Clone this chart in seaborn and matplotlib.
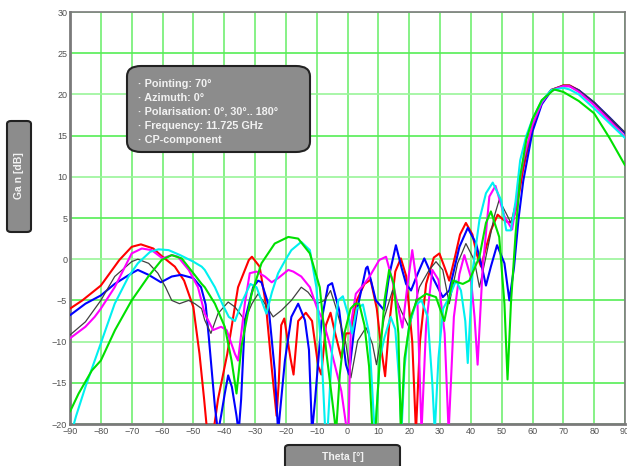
import numpy as np
import pandas as pd
import seaborn as sns
import matplotlib.pyplot as plt
from matplotlib.patches import FancyBboxPatch

# Gain-Kurven (CP-Komponente) fuer Polarisation 0..180 Grad
theta_red = [-90, -86, -80, -74, -70, -67, -63, -60, -56, -53, -50, -48, -46.5, -45.5, -43.5, -42, -39, -35.5,
             -32, -31, -28.5, -26.5, -24.5, -23, -22.3, -21.5, -20.5, -18.5, -17.5, -16, -13.5, -11.5, -9.5,
             -8.5, -7, -5.5, -4, -2, -0.5, 1, 3, 5.5, 7.5, 9.5, 11, 12.2, 13.5, 15.5, 17.3, 19, 21, 22.2, 23.5,
             25.5, 28, 29.8, 31.5, 33, 35, 36.5, 38.4, 40.5, 42, 43.3, 45, 46.5, 48.7, 50.5, 52, 53.5, 55, 57,
             60, 63, 66, 70, 72, 75, 80, 85, 90]
gain_red = [-6.0, -5.0, -3.2, -0.1, 1.5, 1.8, 1.3, 0.3, -0.9, -2.6, -5.8, -11.5, -17, -21, -21, -17, -11.5, -3.4,
            -0.1, 0.3, -0.9, -5.4, -13.5, -19, -15, -8, -7.2, -12, -14, -7.5, -6.5, -7.5, -13,
            -14, -8, -6.5, -9, -12, -9, -9, -5, -3, -2.5, -6, -11, -14.2, -8, -1.5, 0.1, -2, -10, -21, -10,
            -3, 0.2, 0.7, -1, -2.6, 0.5, 3, 4.4, 3, 0.5, -0.9, 1.5, 3.5, 5.4, 4.8, 4.5, 4.5, 6.5, 11,
            16, 19, 20.5, 21.1, 21.1, 20.5, 19.0, 17.0, 15.3]

theta_blue = [-90, -85, -80, -75.5, -70, -68, -64.5, -60.5, -57, -54, -50, -47.5, -46, -45, -43, -42, -41, -39.8,
              -38.7, -37.5, -36, -35.3, -34.5, -33.3, -30.6, -29, -27.9, -25.7, -23.6, -22.5, -21.5, -20.3,
              -18.2, -16, -13.8, -12.5, -11.5, -10.5, -8.4, -6.3, -5, -2.7, -0.5, 0.5, 2, 3.3, 6, 6.5, 9.2,
              11.9, 13.5, 15.7, 17.5, 19, 20.6, 22.5, 24.9, 27.6, 30.9, 33, 36.3, 39, 41.7, 43.8, 44.9, 46.5,
              48.5, 50.9, 52.5, 54, 55.5, 57, 60, 63, 66, 70, 72, 75, 80, 85, 90]
gain_blue = [-6.8, -5.4, -4.4, -3.0, -1.7, -1.3, -1.9, -2.8, -2.1, -1.9, -2.3, -3.4, -5.5, -9.4, -17.9, -21, -19,
             -16.3, -14.1, -15.5, -19, -21, -17, -7.4, -3.4, -2.6, -2.8, -5.4, -13.5, -21, -17, -12.3,
             -7.0, -5.4, -7.4, -11, -21, -17, -7.4, -3.2, -2.9, -6.2, -12.8, -14, -9, -5.8, -1.1, -0.9, -5,
             -6.2, -2, 1.7, -1, -3, -3.8, -2, 0.1, -2.2, -4.6, -3.8, 1.5, 3.8, 1.9, -1.3, -3.2, -0.9,
             1.7, -0.5, -5, -1, 5, 9.5, 15.5, 18.8, 20.4, 21.0, 21.0, 20.5, 19.0, 17.2, 15.3]

theta_black = [-90, -85, -80, -75.5, -70, -68, -64.5, -61.5, -59, -57, -54.5, -51.5, -49.5, -47.3, -46.3, -44.3,
               -42, -38.7, -36.5, -33.3, -31, -29, -26.8, -24.1, -21.4, -18.2, -15, -12.8, -10, -7.4, -5.5,
               -3.8, -0.5, 1.1, 3.3, 6, 8.1, 9.4, 11.9, 14.6, 17.3, 20, 23.3, 26.5, 28.7, 30.9, 33, 35.7,
               38.4, 41.1, 42.8, 44.9, 47.6, 49.2, 51.4, 53, 55, 57, 60, 63, 66, 70, 72, 75, 80, 85, 90]
gain_black = [-9.2, -7.6, -5.0, -2.1, -0.3, 0, -0.5, -1.7, -3.4, -5.0, -5.4, -5.0, -5.4, -6.0, -7.4, -9.0,
              -6.6, -5.2, -5.8, -7.4, -5.4, -4.2, -5.4, -7.0, -6.2, -5.0, -3.4, -4.0, -5.4, -5.0, -3.8,
              -5.8, -10.3, -14.4, -9.9, -8.3, -10.3, -12.8, -7.1, -3.8, -6.2, -8.3, -3.4, -1.3, -0.3, -1.3, -5.4, -0.5,
              1.9, -0.1, -3.4, 0.3, 5.2, 7.2, 5.6, 4.4, 7.5, 11.5, 16, 19, 20.6, 21.1, 21.1, 20.5, 19.0, 17.2, 15.4]

theta_magenta = [-90, -85, -82, -80, -75.5, -70, -66.7, -63.5, -60, -57, -55, -51.5, -48.5, -46.3, -43.6, -41,
                 -39.2, -36.5, -35.5, -33.3, -31.7, -29.5, -26.8, -24.6, -22.5, -19.2, -17.6, -15, -12.2, -10,
                 -8, -6, -4, -2, -0.5, 0.3, 1.1, 2.7, 5, 7, 10.3, 12.5, 14.5, 16.5, 17.8, 19.5, 21, 22.5, 24,
                 25.5, 27.5, 29.5, 31.5, 32.8, 34.5, 36.3, 37.9, 40, 41.2, 42.2, 43, 43.8, 46, 48, 50.9, 53.4,
                 55, 57, 60, 63, 66, 70, 72, 75, 80, 85, 90]
gain_magenta = [-9.6, -8.2, -7.0, -6.0, -3.4, 0.7, 1.3, 1.1, 0.1, 0.5, 0.3, -1.3, -3.4, -6.6, -8.6, -8.2,
                -8.6, -11.5, -12.3, -5.4, -1.7, -1.5, -2.1, -2.8, -2.3, -1.3, -1.5, -2.1, -3.4, -5.8,
                -7.4, -10, -13, -16, -20, -21, -7.9, -4.2, -3.2, -2.2, -0.1, 0.3, -2.5, -6, -8.3, -3, 1.1, -3, -21,
                -8, -1.3, -2.5, -9, -21, -7, -1.8, 0.5, -2.2, -7, -12.8, -7, -1.3, 7.6, 8.9, 5.2, 3.6,
                7.5, 12, 16.3, 19, 20.5, 21.0, 21.0, 20.3, 18.7, 16.8, 14.8]

theta_cyan = [-89.5, -88, -85, -80, -75.5, -71, -68, -64, -61.3, -58, -54.3, -50, -47.3, -46.3, -43, -40.5,
              -38.5, -36.5, -34, -31.5, -29.5, -26.3, -24.5, -22.5, -20, -18.2, -15, -12.2, -10.1, -8.4, -7.2,
              -6.5, -5, -3, -1.5, 0, 1.5, 3, 5, 7, 8.5, 9, 10.5, 12, 14, 15.5, 16.8, 17.5, 18.5, 20, 22, 24,
              26, 27.5, 28.3, 29.5, 31, 33, 35.2, 36.8, 38.2, 39, 40.6, 42.8, 44.9, 47.1, 49.8, 51.5, 53,
              54.5, 56, 58, 60, 63, 66, 70, 72, 75, 80, 85, 90]
gain_cyan = [-21, -19, -15.5, -10.2, -5.4, -2.1, -0.5, 0.9, 1.2, 1.1, 0.5, -0.3, -0.9, -1.3, -3.4, -5.5,
             -7, -7.5, -5, -3, -3.4, -6.6, -4, -1.7, 0, 1.1, 2.1, 1.1, -3.4, -11.5, -21,
             -21, -11, -5, -4.5, -6.5, -9, -6, -5.5, -9, -19, -21, -12, -9.5, -7, -8.5, -15, -21, -13, -8, -5.6, -5,
             -7, -15, -21, -12, -6, -4.6, -2.6, -3.8, -7.5, -12.6, -1.3, 4.8, 8.0, 9.3, 7.2, 3.5, 3.5,
             7, 12, 15, 17, 19.2, 20.5, 20.8, 20.6, 20.0, 18.3, 16.5, 14.7]

theta_green = [-90, -87.2, -82.9, -80, -75.4, -70, -64.6, -60.3, -57, -53.8, -50, -47.3, -46.3, -43, -39.8,
               -37.6, -36, -34.4, -31.1, -27.9, -23.6, -19.2, -16, -12.2, -9, -6.8, -5, -3.7, -2.5, -1, 1,
               2.5, 3.8, 5.5, 7, 8.1, 9, 10.5, 12, 13.5, 15, 16.5, 17.3, 18.5, 20.5, 22.5, 25.5, 28.7, 31.4,
               34.1, 37.4, 39.5, 42.8, 44.9, 46.5, 49.2, 50.9, 51.9, 53, 54.5, 56, 58, 60, 63, 67, 70, 75,
               80, 85, 90]
gain_green = [-18.5, -16.3, -13.5, -12.3, -8.6, -5.0, -2.1, -0.1, 0.5, 0.1, -1.7, -3.0, -3.4, -5.4, -8.2,
              -12.3, -16.3, -10.6, -4.2, -0.5, 1.9, 2.7, 2.5, 0.7, -3.4, -11.5, -17, -21, -14, -9, -6,
              -5.4, -5.4, -8, -13, -21, -21, -12, -5, -1.3, -3, -9, -21, -12, -7, -5, -4.2, -4.6, -7.5,
              -2.6, -3.0, -2.6, 0.3, 4.4, 5.8, 2.7, -5.4, -14.6, -5.4, 3, 10, 14.5, 17, 19.3, 20.6, 20.3, 19.2,
              17.7, 14.7, 11.4]

kurven = [
    ("red", theta_red, gain_red, "#ff0000", 1.5),
    ("blue", theta_blue, gain_blue, "#0000ff", 1.5),
    ("black", theta_black, gain_black, "#404040", 0.9),
    ("magenta", theta_magenta, gain_magenta, "#ff00ff", 1.5),
    ("cyan", theta_cyan, gain_cyan, "#00f0f0", 1.5),
    ("green", theta_green, gain_green, "#00e000", 1.5),
]

x_ticks = list(range(-90, 91, 10))
y_ticks = list(range(-20, 31, 5))

info_zeilen = ["· Pointing: 70°", "· Azimuth: 0°", "· Polarisation: 0°, 30°.. 180°",
               "· Frequency: 11.725 GHz", "· CP-component"]

sns.set_style("white")
plt.rcParams["font.family"] = ["Liberation Sans", "DejaVu Sans"]

fig = plt.figure(figsize=(6.27, 4.66), dpi=100)
ax = fig.add_axes([70 / 627, 42 / 466, 555 / 627, 412 / 466])

# Gitter
for xt in x_ticks:
    ax.axvline(xt, color="#66ee66", lw=1.1, zorder=0)
for yt in y_ticks:
    ax.axhline(yt, color="#55ee55" if yt % 10 else "#99f599", lw=1.2, zorder=0)

for name, th, g, farbe, lw in kurven:
    assert len(th) == len(g), name
    d = pd.DataFrame({"theta": th, "gain": g})
    sns.lineplot(data=d, x="theta", y="gain", color=farbe, lw=lw, sort=False,
                 estimator=None, ax=ax, zorder=3)

ax.set_xlim(-90, 90)
ax.set_ylim(-20, 30)
ax.set_xticks(x_ticks)
ax.set_yticks(y_ticks)
ax.tick_params(length=0, labelsize=6.5, labelcolor="#505050", pad=2)
ax.set_xlabel("")
ax.set_ylabel("")
for s in ax.spines.values():
    s.set_color("#7a7a7a")
    s.set_linewidth(1.2)
ax.spines["left"].set_linewidth(2)
ax.spines["bottom"].set_linewidth(2)


def box(x0, y0, w, h, r):
    p = FancyBboxPatch((x0 / 627, 1 - (y0 + h) / 466), w / 627, h / 466,
                       boxstyle=f"round,pad=0,rounding_size={r / 627}",
                       transform=fig.transFigure, fc="#8c8c8c", ec="#222222", lw=1.5,
                       zorder=10)
    fig.patches.append(p)


# Infobox
box(127, 66, 183, 86, 14)
for i, z in enumerate(info_zeilen):
    fig.text(138 / 627, 1 - (84 + i * 14) / 466, z, color="#f2f2f2", fontsize=7.8,
             fontweight="bold", va="center", ha="left", zorder=11)

# Achsenbeschriftungen in Kaesten
box(7, 121, 24, 111, 4)
fig.text(19 / 627, 1 - 176 / 466, "Ga n [dB]", rotation=90, color="#f2f2f2", fontsize=7.5,
         fontweight="bold", va="center", ha="center", zorder=11)
box(285, 445, 115, 26, 4)
fig.text(343 / 627, 1 - 457 / 466, "Theta [°]", color="#f2f2f2", fontsize=7.5,
         fontweight="bold", va="center", ha="center", zorder=11)

fig.savefig("out.png", dpi=100)
